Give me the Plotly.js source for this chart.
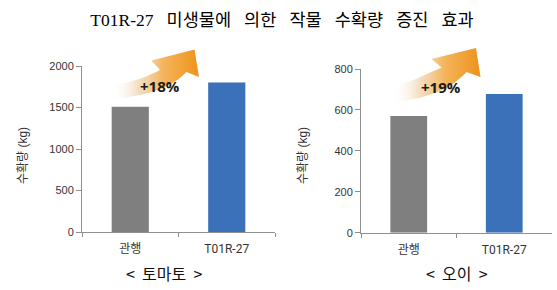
<!DOCTYPE html>
<html>
<head>
<meta charset="utf-8">
<script src="https://cdn.plot.ly/plotly-3.0.1.min.js"></script>
<style>html,body{margin:0;padding:0;background:#fff;}#chart{width:557px;height:290px;}</style>
</head>
<body>
<div id="chart"></div>
<script>
// ---- data ----
const categories = ['관행', 'T01R-27'];
const tomatoYield = [1510, 1800];
const cucumberYield = [570, 678];
const tomatoTicks = [0, 500, 1000, 1500, 2000];
const cucumberTicks = [0, 200, 400, 600, 800];
const increaseLabels = ['+18%', '+19%'];
const cropLabels = ['<\u00a0\u00a0토마토\u00a0\u00a0>', '<\u00a0\u00a0오이\u00a0\u00a0>'];
const yTitle = '수확량 (kg)';
const titleWords = ['T01R-27', '미생물에', '의한', '작물', '수확량', '증진', '효과'];

const W = 557, H = 290;
const barColors = ['#7f7f7f', '#3a71b8'];
const chartTitle = titleWords.join('\u00a0\u00a0\u00a0');

// ---- decorative arrows (pixel space overlay) ----
function quad(p0, c, p1, n) {
  const pts = [];
  for (let i = 0; i <= n; i++) {
    const t = i / n;
    pts.push([(1-t)*(1-t)*p0[0] + 2*(1-t)*t*c[0] + t*t*p1[0],
              (1-t)*(1-t)*p0[1] + 2*(1-t)*t*c[1] + t*t*p1[1]]);
  }
  return pts;
}
function arrow(a) {
  let pts = quad(a.tailTop, a.ctrlTop, a.notchTop, 18);
  pts.push(a.wingL, a.tip, a.wingR);
  pts = pts.concat(quad(a.notchBot, a.ctrlBot, a.tailBot, 18));
  pts.push(a.tailTop);
  return pts;
}
const arrows = [
  arrow({tailTop: [111, 85], ctrlTop: [135, 83], notchTop: [160, 70], wingL: [151.5, 60.5],
         tip: [194.5, 49.5], wingR: [199, 77], notchBot: [186.5, 72], ctrlBot: [165, 95], tailBot: [111, 99]}),
  arrow({tailTop: [392, 88], ctrlTop: [415, 80], notchTop: [441.5, 67.5], wingL: [431.5, 59],
         tip: [476, 48], wingR: [480.5, 77], notchBot: [466.5, 72], ctrlBot: [445, 97], tailBot: [393, 102]})
];
const arrowTraces = arrows.map(pts => ({
  type: 'scatter', mode: 'lines', xaxis: 'x3', yaxis: 'y3',
  x: pts.map(p => p[0]), y: pts.map(p => p[1]),
  fill: 'toself', line: {width: 0, color: 'rgba(0,0,0,0)'},
  fillgradient: {type: 'horizontal', colorscale: [
    [0, 'rgba(255,255,255,0)'], [0.3, 'rgba(240,214,178,0.75)'],
    [0.6, 'rgba(244,180,90,1)'], [1, 'rgb(238,146,26)']]},
  hoverinfo: 'skip', showlegend: false
}));

const data = [
  {type: 'bar', x: categories, y: tomatoYield, xaxis: 'x', yaxis: 'y',
   marker: {color: barColors}, showlegend: false},
  {type: 'bar', x: categories, y: cucumberYield, xaxis: 'x2', yaxis: 'y2',
   marker: {color: barColors}, showlegend: false}
].concat(arrowTraces);

const axisLine = '#8f8f8f';
const tickFont = {family: 'Arial, Liberation Sans, sans-serif', size: 11, color: '#333'};
const catFont = {family: 'Roboto, Noto Sans CJK KR, sans-serif', size: 12, color: '#333'};
function yAx(ticks, dom, anchor) {
  return {domain: dom, anchor: anchor, range: [ticks[0], ticks[ticks.length-1]],
    tickvals: ticks, showgrid: false, zeroline: false, showline: true, linecolor: axisLine,
    ticks: 'outside', ticklen: 5, tickcolor: axisLine, tickfont: tickFont, automargin: false, fixedrange: true};
}
function xAx(dom, anchor) {
  return {domain: dom, anchor: anchor, type: 'category', showline: true, linecolor: axisLine,
    ticks: 'outside', tickson: 'boundaries', ticklen: 4, tickcolor: axisLine, tickfont: catFont,
    ticklabelstandoff: 6, showgrid: false, automargin: false, fixedrange: true};
}
function ann(text, px, py, font, extra) {
  return Object.assign({text: text, x: px / W, y: 1 - py / H, xref: 'paper', yref: 'paper',
    xanchor: 'center', yanchor: 'middle', showarrow: false, font: font}, extra || {});
}
const yTitleFont = {family: 'Arial, Noto Sans CJK KR, sans-serif', size: 12, color: '#333'};
const pctFont = {family: 'Open Sans, sans-serif', size: 15, color: '#1a1a1a'};
const cropFont = {family: 'Noto Sans CJK KR, sans-serif', size: 16, color: '#111'};

const layout = {
  width: W, height: H,
  margin: {l: 0, r: 0, t: 0, b: 0},
  paper_bgcolor: '#fff', plot_bgcolor: 'rgba(0,0,0,0)',
  bargap: 0.615,
  title: {text: chartTitle, x: 282 / W, xanchor: 'center', y: 1 - 20 / H, yanchor: 'middle',
    xref: 'paper', yref: 'paper',
    font: {family: 'Liberation Serif, Noto Sans CJK KR, serif', size: 17.5, color: '#000'}},
  xaxis: xAx([82 / W, 275 / W], 'y'),
  yaxis: yAx(tomatoTicks, [(H - 232) / H, (H - 66) / H], 'x'),
  xaxis2: xAx([361 / W, 552 / W], 'y2'),
  yaxis2: yAx(cucumberTicks, [(H - 232.7) / H, (H - 69) / H], 'x2'),
  xaxis3: {domain: [0, 1], range: [0, W], visible: false, anchor: 'y3', fixedrange: true},
  yaxis3: {domain: [0, 1], range: [H, 0], visible: false, anchor: 'x3', fixedrange: true},
  annotations: [
    ann(yTitle, 23, 156, yTitleFont, {textangle: -90}),
    ann(yTitle, 303, 156, yTitleFont, {textangle: -90}),
    ann('<b>' + increaseLabels[0] + '</b>', 160, 86, pctFont),
    ann('<b>' + increaseLabels[1] + '</b>', 441, 87, pctFont),
    ann(cropLabels[0], 164, 273, cropFont),
    ann(cropLabels[1], 457, 273, cropFont)
  ]
};

Plotly.newPlot('chart', data, layout, {staticPlot: true, displayModeBar: false});
</script>
</body>
</html>
